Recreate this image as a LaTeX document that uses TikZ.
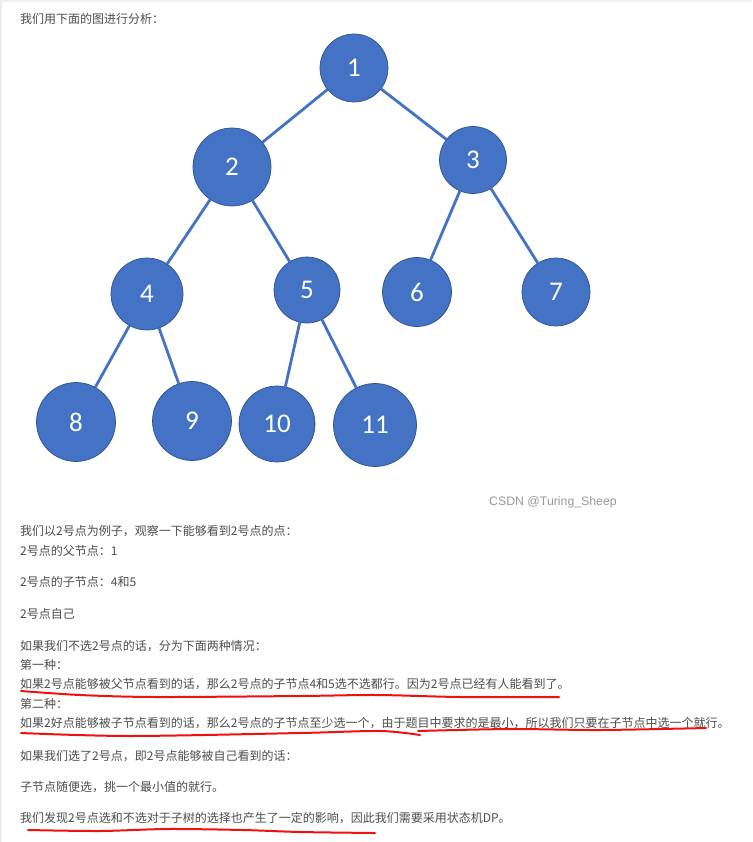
\documentclass[tikz,border=0pt]{standalone}
\usepackage{fontspec}
\setmainfont{Liberation Sans}
\newfontfamily\cjk{Noto Sans CJK SC}
\newfontfamily\numfont{Carlito}
\usepackage{tikz}
\usetikzlibrary{calc}
\definecolor{nodeblue}{HTML}{4472C4}
\definecolor{nodeedge}{HTML}{2F528F}
\definecolor{txtgray}{HTML}{4D4D4D}
\definecolor{markred}{HTML}{F01010}

\begin{document}
\begin{tikzpicture}[x=1pt,y=-1pt,
    vertex/.style={circle, fill=nodeblue, draw=nodeedge, line width=0.7pt,
      text=white, inner sep=0pt, minimum size=#1,
      font=\numfont\fontsize{27}{27}\selectfont},
    edge/.style={draw=nodeblue, line width=2.8pt},
    line/.style={anchor=west, inner sep=0pt, text=txtgray,
      font=\cjk\fontsize{12}{12}\selectfont},
    pen/.style={draw=markred, line width=2pt, line cap=round, line join=round}]
      \useasboundingbox (0,0) rectangle (752,842);
      \fill[white] (0,0) rectangle (752,842);
      \draw[black!8, line width=1.5pt] (1,0) -- (1,842);
      \draw[black!6, line width=2pt] (0,1) -- (752,1);

      % the tree
      \node[vertex=68pt] (1) at (354,68) {1};
      \node[vertex=78pt] (2) at (232,167) {2};
      \node[vertex=67pt] (3) at (473,160) {3};
      \node[vertex=72pt] (4) at (147,294) {4};
      \node[vertex=66pt] (5) at (307,290) {5};
      \node[vertex=69pt] (6) at (417,292) {6};
      \node[vertex=68pt] (7) at (556,292) {7};
      \node[vertex=79pt] (8) at (76,422) {8};
      \node[vertex=79pt] (9) at (192,421) {9};
      \node[vertex=76pt] (10) at (277,424) {10};
      \node[vertex=83pt] (11) at (375,425) {11};
      \draw[edge] (1) -- (2);
      \draw[edge] (1) -- (3);
      \draw[edge] (2) -- (4);
      \draw[edge] (2) -- (5);
      \draw[edge] (3) -- (6);
      \draw[edge] (3) -- (7);
      \draw[edge] (4) -- (8);
      \draw[edge] (4) -- (9);
      \draw[edge] (5) -- (10);
      \draw[edge] (5) -- (11);

      \node[anchor=west, inner sep=0pt, text=black!40,
        font=\fontsize{12.3}{12.3}\selectfont] (wm) at (489,502) {CSDN @Turing\_Sheep};

      % text lines
      \node[line] (t0) at (20,19) {我们用下面的图进行分析：};
      \node[line] (t1) at (20,531) {我们以2号点为例子，观察一下能够看到2号点的点：};
      \node[line] (t2) at (20,551) {2号点的父节点：1};
      \node[line] (t3) at (20,582) {2号点的子节点：4和5};
      \node[line] (t4) at (20,614) {2号点自己};
      \node[line] (t5) at (20,646) {如果我们不选2号点的话，分为下面两种情况：};
      \node[line] (t6) at (20,665) {第一种：};
      \node[line] (t7) at (20,684) {如果2号点能够被父节点看到的话，那么2号点的子节点4和5选不选都行。因为2号点已经有人能看到了。};
      \node[line] (t8) at (20,704) {第二种：};
      \node[line] (t9) at (20,723) {如果2好点能够被子节点看到的话，那么2号点的子节点至少选一个，由于题目中要求的是最小，所以我们只要在子节点中选一个就行。};
      \node[line] (t10) at (20,756) {如果我们选了2号点，即2号点能够被自己看到的话：};
      \node[line] (t11) at (20,787) {子节点随便选，挑一个最小值的就行。};
      \node[line] (t12) at (20,818) {我们发现2号点选和不选对于子树的选择也产生了一定的影响，因此我们需要采用状态机DP。};

      % red marks under the lines
      \draw[pen] plot[smooth] coordinates {(21,691) (80,695) (155,697) (300,696) (377,695) (460,697) (559,697)};
      \draw[pen] plot[smooth] coordinates {(21,733) (130,736) (300,733) (380,731) (420,735)};
      \draw[pen] plot[smooth] coordinates {(418,731) (510,729) (600,730) (706,728)};
      \draw[pen] plot[smooth] coordinates {(28,830) (100,831) (167,829) (243,830) (300,832) (375,833)};
    \end{tikzpicture}
\end{document}
